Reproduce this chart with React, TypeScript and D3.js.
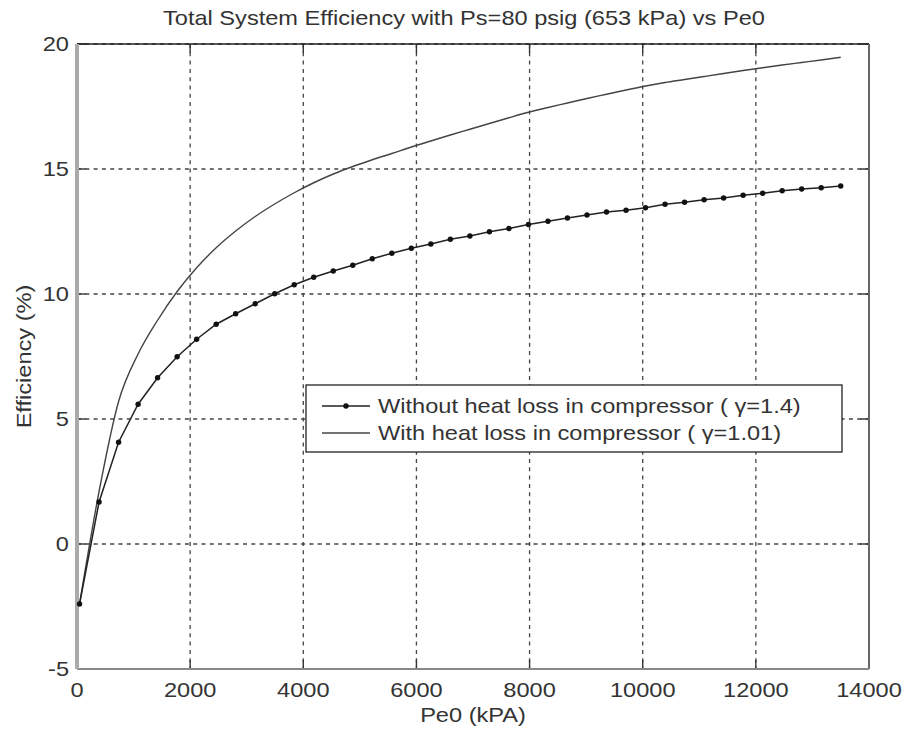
import React from "react";
import * as d3 from "d3";

const peKpa = [45, 390, 735, 1080, 1425, 1770, 2115, 2460, 2805, 3150, 3495, 3840, 4185, 4530, 4875, 5220, 5565, 5910, 6255, 6600, 6945, 7290, 7635, 7980, 8325, 8670, 9015, 9360, 9705, 10050, 10395, 10740, 11085, 11430, 11775, 12120, 12465, 12810, 13155, 13500];
const effNoLoss = [-2.4, 1.68, 4.07, 5.59, 6.65, 7.49, 8.19, 8.79, 9.21, 9.61, 10.01, 10.37, 10.67, 10.92, 11.15, 11.41, 11.63, 11.83, 12.0, 12.19, 12.32, 12.49, 12.62, 12.78, 12.91, 13.04, 13.16, 13.28, 13.35, 13.45, 13.59, 13.67, 13.77, 13.84, 13.95, 14.03, 14.13, 14.2, 14.25, 14.32];
const effWithLoss = [-2.4, 2.1, 5.7, 7.6, 8.95, 10.1, 11.05, 11.85, 12.52, 13.1, 13.6, 14.05, 14.45, 14.8, 15.1, 15.37, 15.62, 15.88, 16.12, 16.36, 16.59, 16.82, 17.05, 17.27, 17.46, 17.64, 17.82, 17.99, 18.16, 18.32, 18.46, 18.58, 18.7, 18.82, 18.94, 19.05, 19.16, 19.26, 19.36, 19.47];
const xTicks = [0, 2000, 4000, 6000, 8000, 10000, 12000, 14000];
const yTicks = [-5, 0, 5, 10, 15, 20];
const titleText = "Total System Efficiency with Ps=80 psig (653 kPa) vs Pe0";
const xLabelText = "Pe0 (kPA)";
const yLabelText = "Efficiency (%)";
const legendLabels = ["Without heat loss in compressor ( \u03b3=1.4)", "With heat loss in compressor ( \u03b3=1.01)"];

const W = 908;
const H = 737;
const L = 77, R = 869, T = 44, B = 669;
const FONT = "'Liberation Sans', Arial, Helvetica, sans-serif";
const SX = 1.18;
const FS = 20;
const TXT = "#333";

function Txt(props: { x: number; y: number; anchor?: string; rot?: number; children: React.ReactNode }) {
  const { x, y, anchor = "start", rot = 0, children } = props;
  return (
    <text
      transform={`translate(${x},${y}) rotate(${rot}) scale(${SX},1)`}
      textAnchor={anchor}
      fontSize={FS}
      fill={TXT}
    >
      {children}
    </text>
  );
}

export default function App() {
  const x = d3.scaleLinear().domain([0, 14000]).range([L, R]);
  const y = d3.scaleLinear().domain([-5, 20]).range([B, T]);
  const idx = d3.range(peKpa.length);
  const lineNo = d3.line<number>().x((i) => x(peKpa[i])).y((i) => y(effNoLoss[i]));
  const lineWith = d3
    .line<number>()
    .x((i) => x(peKpa[i]))
    .y((i) => y(effWithLoss[i]))
    .curve(d3.curveMonotoneX);
  const tickLen = 9;
  const legX = 306, legY = 385, legW = 536, legH = 67;
  return (
    <svg
      width={W}
      height={H}
      style={{ position: "absolute", left: 0, top: 0, background: "#fff" }}
      fontFamily={FONT}
    >
      <rect x={0} y={0} width={W} height={H} fill="#fff" />
      {xTicks.slice(1, -1).map((t) => (
        <line key={"gx" + t} x1={x(t)} x2={x(t)} y1={T} y2={B} stroke="#444" strokeWidth={1.3} strokeDasharray="4 4.3" />
      ))}
      {yTicks.slice(1).map((t) => (
        <line key={"gy" + t} x1={L} x2={R} y1={y(t)} y2={y(t)} stroke="#444" strokeWidth={1.3} strokeDasharray="4 4.3" />
      ))}
      {xTicks.map((t) => (
        <g key={"tx" + t}>
          <line x1={x(t)} x2={x(t)} y1={B} y2={B - tickLen} stroke="#333" strokeWidth={1.4} />
          <line x1={x(t)} x2={x(t)} y1={T} y2={T + tickLen} stroke="#333" strokeWidth={1.4} />
          <Txt x={x(t)} y={697} anchor="middle">{t}</Txt>
        </g>
      ))}
      {yTicks.map((t) => (
        <g key={"ty" + t}>
          <line x1={L} x2={L + tickLen} y1={y(t)} y2={y(t)} stroke="#333" strokeWidth={1.4} />
          <line x1={R} x2={R - tickLen} y1={y(t)} y2={y(t)} stroke="#333" strokeWidth={1.4} />
          <Txt x={69} y={y(t) + 7} anchor="end">{t}</Txt>
        </g>
      ))}
      <line x1={L} x2={R} y1={T} y2={T} stroke="#222" strokeWidth={1.6} />
      <line x1={R} x2={R} y1={T} y2={B} stroke="#666" strokeWidth={2} />
      <line x1={L} x2={R} y1={B} y2={B} stroke="#888" strokeWidth={2} />
      <line x1={L} x2={L} y1={T} y2={B} stroke="#aaa" strokeWidth={4} />
      <path d={lineWith(idx) || ""} fill="none" stroke="#444" strokeWidth={1.4} />
      <path d={lineNo(idx) || ""} fill="none" stroke="#222" strokeWidth={1.5} />
      {idx.map((i) => (
        <circle key={"m" + i} cx={x(peKpa[i])} cy={y(effNoLoss[i])} r={2.7} fill="#111" />
      ))}
      <rect x={legX} y={legY} width={legW} height={legH} fill="#fff" stroke="#222" strokeWidth={1.3} />
      <line x1={legX + 16} x2={legX + 64} y1={legY + 21} y2={legY + 21} stroke="#222" strokeWidth={1.5} />
      <circle cx={legX + 40} cy={legY + 21} r={2.7} fill="#111" />
      <line x1={legX + 16} x2={legX + 64} y1={legY + 48} y2={legY + 48} stroke="#444" strokeWidth={1.4} />
      <Txt x={legX + 72} y={legY + 28}>{legendLabels[0]}</Txt>
      <Txt x={legX + 72} y={legY + 55}>{legendLabels[1]}</Txt>
      <Txt x={163} y={25}>{titleText}</Txt>
      <Txt x={(L + R) / 2} y={722} anchor="middle">{xLabelText}</Txt>
      <Txt x={31} y={(T + B) / 2} anchor="middle" rot={-90}>{yLabelText}</Txt>
    </svg>
  );
}
